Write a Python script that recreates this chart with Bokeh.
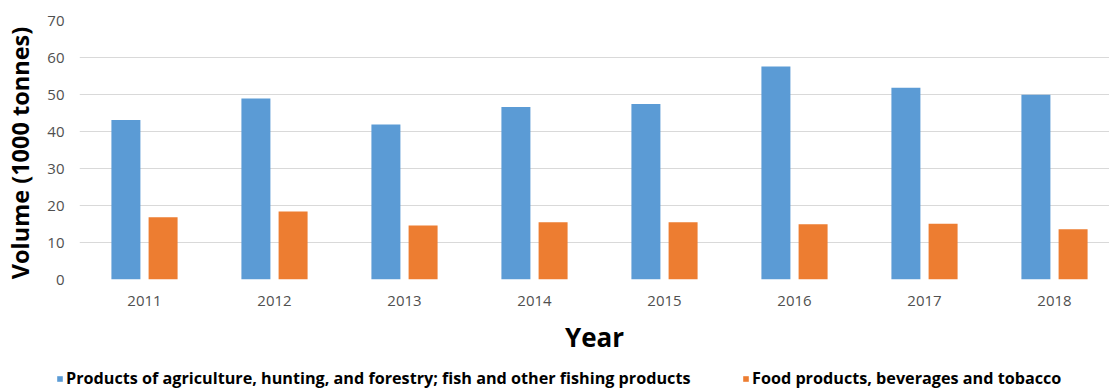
from bokeh.plotting import figure
from bokeh.models import ColumnDataSource, Range1d, FixedTicker, Legend, LegendItem
from bokeh.embed import file_html
from bokeh.resources import INLINE

years = ["2011", "2012", "2013", "2014", "2015", "2016", "2017", "2018"]
agri = [43.1, 48.9, 41.9, 46.6, 47.4, 57.6, 51.8, 49.9]
food = [16.8, 18.4, 14.6, 15.5, 15.5, 14.9, 15.1, 13.6]
agri_label = "Products of agriculture, hunting, and forestry; fish and other fishing products"
food_label = "Food products, beverages and tobacco"
y_ticks = [0, 10, 20, 30, 40, 50, 60, 70]

FONT = "Open Sans"
BLUE, ORANGE = "#5B9BD5", "#ED7D31"
W = 1109
H_MAIN, H_LEG = 363, 27
LEFT = 79
CAT_PX = 130.0

pos = [i + 0.5 for i in range(len(years))]
off = 0.143
bw = 0.223
src = ColumnDataSource(dict(
    xa=[p - off for p in pos], xf=[p + off for p in pos], agri=agri, food=food))

p = figure(width=W, height=H_MAIN, output_backend="svg", toolbar_location=None,
           x_range=Range1d(0, (W - LEFT) / CAT_PX), y_range=Range1d(0, 70),
           min_border_left=LEFT, min_border_right=0, min_border_top=20,
           min_border_bottom=H_MAIN - 279)
p.outline_line_color = None
p.background_fill_color = "white"
p.border_fill_color = "white"

p.vbar(x="xa", top="agri", width=bw, source=src, fill_color=BLUE, line_color=None)
p.vbar(x="xf", top="food", width=bw, source=src, fill_color=ORANGE, line_color=None)

p.xgrid.grid_line_color = None
p.ygrid.grid_line_color = "#D9D9D9"
p.ygrid.grid_line_width = 1
p.yaxis.ticker = FixedTicker(ticks=y_ticks)
p.xaxis.ticker = FixedTicker(ticks=pos)
p.xaxis.major_label_overrides = {pp: y for pp, y in zip(pos, years)}

for ax in (p.xaxis[0], p.yaxis[0]):
    ax.axis_line_color = None
    ax.major_tick_line_color = None
    ax.minor_tick_line_color = None
    ax.major_tick_out = 0
    ax.major_tick_in = 0
    ax.minor_tick_out = 0
    ax.major_label_text_font = FONT
    ax.major_label_text_font_size = "15px"
    ax.major_label_text_color = "#505050"
    ax.axis_label_text_font = FONT
    ax.axis_label_text_font_style = "bold"
    ax.axis_label_text_color = "#000000"

p.yaxis.axis_label = "Volume  (1000 tonnes)"
p.yaxis.axis_label_text_font_size = "23.5px"
p.yaxis.major_label_standoff = 15
p.yaxis.axis_label_standoff = 8
p.xaxis.axis_label = "Year"
p.xaxis.axis_label_text_font_size = "26px"
p.xaxis.major_label_standoff = 16
p.xaxis.axis_label_standoff = 10

# legend strip (separate root below the chart)
q = figure(width=W, height=H_LEG, output_backend="svg", toolbar_location=None,
           x_range=Range1d(0, 1), y_range=Range1d(0, 1),
           x_axis_location=None, y_axis_location=None,
           min_border_left=0, min_border_right=0, min_border_top=0, min_border_bottom=0)
q.outline_line_color = None
q.grid.visible = False
q.border_fill_color = "white"
q.background_fill_color = "white"
g1 = q.vbar(x=[5], top=[1], width=0.1, fill_color=BLUE, line_color=None)
g2 = q.vbar(x=[5], top=[1], width=0.1, fill_color=ORANGE, line_color=None)

leg_kw = dict(orientation="horizontal", padding=0, margin=0,
              glyph_width=7, glyph_height=7, label_standoff=3,
              label_text_font=FONT, label_text_font_style="bold",
              label_text_font_size="16.2px", label_text_color="#000000",
              label_height=16, border_line_color=None, background_fill_alpha=0)
l1 = Legend(items=[LegendItem(label=agri_label, renderers=[g1])], location=(56, 1), **leg_kw)
l2 = Legend(items=[LegendItem(label=food_label, renderers=[g2])], location=(742, 1), **leg_kw)
q.add_layout(l1, "center")
q.add_layout(l2, "center")

open("out.html", "w").write(file_html([p, q], INLINE))
